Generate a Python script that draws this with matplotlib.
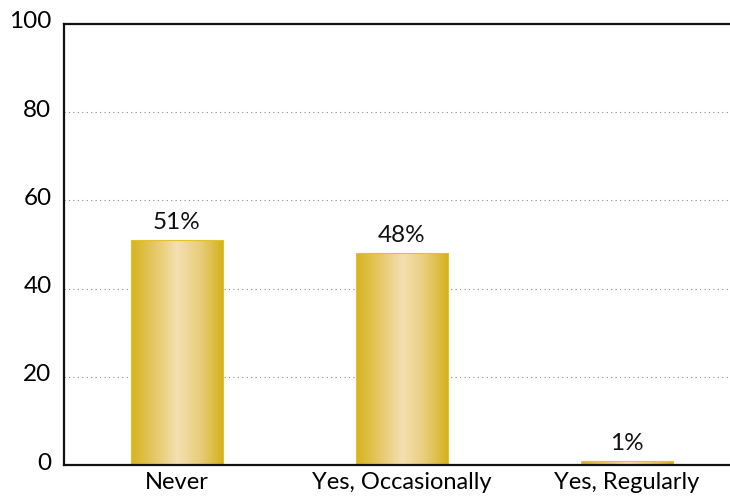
import matplotlib

matplotlib.use("Agg")
import matplotlib.pyplot as plt
import matplotlib.transforms as mtransforms
import numpy as np
from matplotlib.colors import LinearSegmentedColormap

categories = ["Never", "Yes, Occasionally", "Yes, Regularly"]
values = [51, 48, 1]
labels = ["51%", "48%", "1%"]
yticks = [0, 20, 40, 60, 80, 100]

plt.rcParams["font.family"] = ["Lato", "DejaVu Sans"]

fig = plt.figure(figsize=(7.30, 5.01), dpi=100)
ax = fig.add_axes([64 / 730, 36 / 501, 666 / 730, 441 / 501])

x = np.arange(len(categories))
w = 0.41
cmap = LinearSegmentedColormap.from_list(
    "gold", ["#d6b41c", "#e6c766", "#f4e0b2", "#e8cd78", "#d4b01a"]
)
grad = np.linspace(0, 1, 256).reshape(1, -1)

bars = ax.bar(x, values, w, color="none", edgecolor="#e2c22a", linewidth=0.8, zorder=3)
for b, lab in zip(bars, labels):
    x0, h = b.get_x(), b.get_height()
    im = ax.imshow(
        grad,
        cmap=cmap,
        aspect="auto",
        extent=(x0, x0 + w, 0, h),
        zorder=2,
    )
    im.set_clip_path(b)
    ax.text(
        x0 + w / 2,
        h + 1.6,
        lab,
        ha="center",
        va="bottom",
        fontsize=17.5,
        color="#111111",
    )

ax.set_xlim(-0.502, 2.458)
ax.set_ylim(0, 100)
ax.set_yticks(yticks)
ax.set_yticklabels([str(t) for t in yticks], fontsize=17.5)
ax.set_xticks(x)
ax.set_xticklabels(categories, fontsize=17)
ax.tick_params(length=0, pad=5)
ax.tick_params(axis="y", pad=9)
shift = mtransforms.ScaledTranslation(0, 4 / 100, fig.dpi_scale_trans)
for t in ax.get_yticklabels():
    t.set_transform(t.get_transform() + shift)
for t in [20, 40, 60, 80]:
    ax.axhline(t, color="#888888", ls=(0, (1, 3)), lw=0.8, zorder=1)
ax.spines["right"].set_visible(False)
for s in ["left", "top", "bottom"]:
    ax.spines[s].set_linewidth(1.6)
    ax.spines[s].set_color("#111111")
ax.spines["bottom"].set_zorder(4)

fig.savefig("out.png", dpi=100)
